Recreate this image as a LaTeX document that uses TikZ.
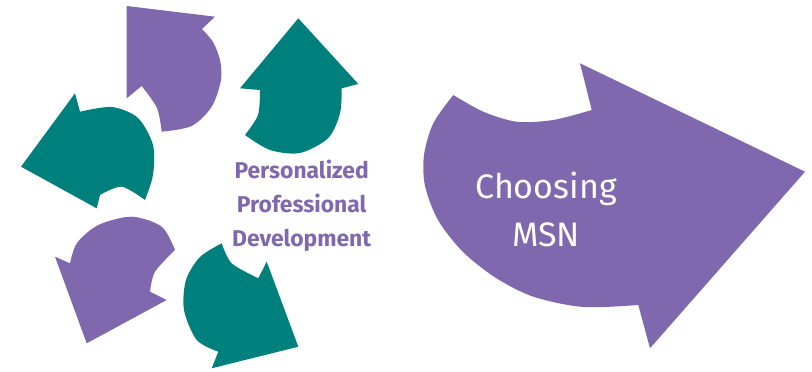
\documentclass[tikz,border=0pt]{standalone}
\usepackage{fontspec}
\newfontfamily\handfont{Fira Sans}
\definecolor{arrowpurple}{HTML}{7F68AE}
\definecolor{arrowteal}{HTML}{00807C}

\begin{document}
\begin{tikzpicture}[x=0.03cm,y=-0.03cm,
    purplearrow/.style={fill=arrowpurple},
    tealarrow/.style={fill=arrowteal},
    pdtext/.style={text=arrowpurple,align=center,font=\handfont\bfseries\fontsize{19.5}{29}\selectfont},
    msntext/.style={text=white,align=center,font=\handfont\fontsize{29}{41}\selectfont}]
    \useasboundingbox (0,0) rectangle (812,372);

    % circling arrows
    \fill[purplearrow] (126.7,6) -- (215,16.7) -- (202,29)
        -- plot[smooth] coordinates {(202,29) (213,42) (220,60) (221,80) (211.7,106.7) (191.7,126) (161.7,131.7)}
        -- plot[smooth] coordinates {(161.7,131.7) (157,108) (141.7,86)}
        -- (126.7,98.3) -- cycle;
    \fill[tealarrow] (298.3,18.3) -- (358.3,84) -- (341.7,88.3)
        -- plot[smooth] coordinates {(341.7,88.3) (340,113.3) (328.3,138) (300,153) (270,150) (245,135)}
        -- plot[smooth] coordinates {(245,135) (258,115) (260,90)}
        -- (240,88.3) -- cycle;
    \fill[tealarrow] (21,166.7) -- (75,93.3) -- (80,111.7)
        -- plot[smooth] coordinates {(80,111.7) (112,107) (138,118) (153,145) (153,175) (145,200)}
        -- plot[smooth] coordinates {(145,200) (121.7,186.7) (100,195)}
        -- (96.7,208.3) -- cycle;
    \fill[purplearrow] (55,256.7) -- (70,263.3)
        -- plot[smooth] coordinates {(70,263.3) (77,243) (98.3,225) (131.7,216.7) (161.7,226.7) (175,250)}
        -- plot[smooth] coordinates {(175,250) (155,271.7) (150,291.7)}
        -- (166.7,300) -- (86.7,343.3) -- cycle;
    \fill[tealarrow] (221.7,243.3)
        -- plot[smooth] coordinates {(221.7,243.3) (231.7,263.3) (258.3,278.3)}
        -- (266.7,261.7) -- (298.3,346.7) -- (211.7,368.3) -- (218.3,351.7)
        -- plot[smooth] coordinates {(218.3,351.7) (196.7,340) (184,310) (186,280) (200,257) (221.7,243.3)}
        -- cycle;

    % big arrow
    \fill[purplearrow] (453.3,95)
        -- plot[smooth] coordinates {(453.3,95) (483.3,111.7) (516.7,121.7) (553.3,120) (591.7,110)}
        -- (580,63.3) -- (805,171.7) -- (650,348.3) -- (638.3,305)
        -- plot[smooth] coordinates {(638.3,305) (583,307) (533.3,296.7) (496,278) (463,252) (438,220) (425,186) (424,155) (433.3,123.3) (453.3,95)}
        -- cycle;

    \node[pdtext] (ppd) at (301.7,206) {Personalized\\Professional\\Development};
    \node[msntext] (msn) at (546,209) {Choosing\\MSN};
\end{tikzpicture}
\end{document}
